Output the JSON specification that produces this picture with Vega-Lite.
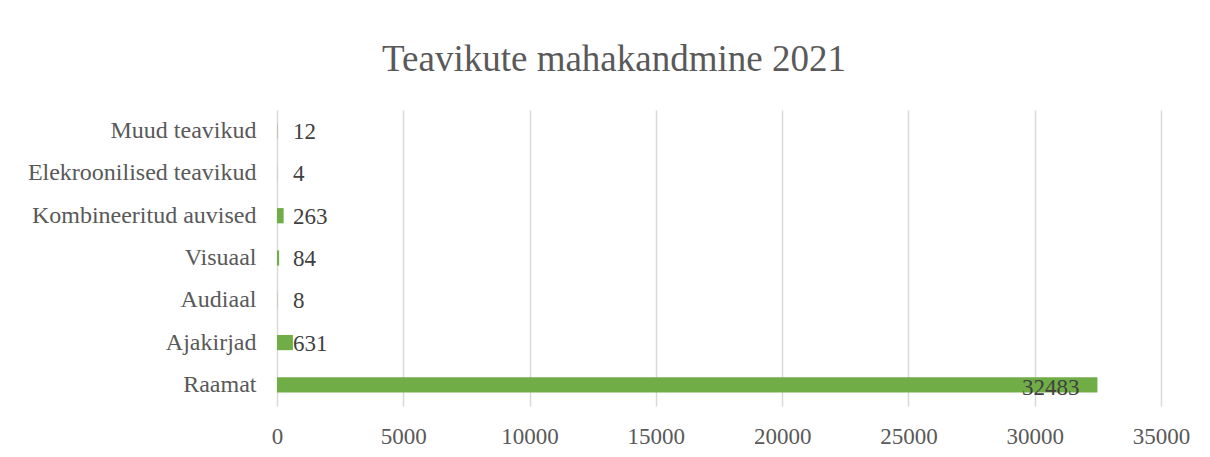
{
  "$schema": "https://vega.github.io/schema/vega-lite/v6.json",
  "width": 884,
  "height": 296,
  "autosize": {"type": "none"},
  "padding": {"left": 277, "top": 110, "right": 49, "bottom": 51},
  "background": "white",
  "title": {
    "text": "Teavikute mahakandmine 2021",
    "font": "Liberation Serif",
    "fontSize": 37,
    "fontWeight": "normal",
    "color": "#595959",
    "anchor": "middle",
    "dx": -105,
    "offset": 31
  },
  "data": {
    "values": [
      {"kategooria": "Muud teavikud", "arv": 12},
      {"kategooria": "Elekroonilised teavikud", "arv": 4},
      {"kategooria": "Kombineeritud auvised", "arv": 263},
      {"kategooria": "Visuaal", "arv": 84},
      {"kategooria": "Audiaal", "arv": 8},
      {"kategooria": "Ajakirjad", "arv": 631},
      {"kategooria": "Raamat", "arv": 32483}
    ]
  },
  "encoding": {
    "y": {
      "field": "kategooria",
      "type": "nominal",
      "sort": null,
      "title": null,
      "scale": {"paddingInner": 0.64, "paddingOuter": 0.32},
      "axis": {
        "domain": false,
        "ticks": false,
        "labelFont": "Liberation Serif",
        "labelFontSize": 24,
        "labelColor": "#595959",
        "labelPadding": 21,
        "labelLimit": 0,
        "grid": false
      }
    }
  },
  "layer": [
    {
      "mark": {"type": "bar", "color": "#70ad47"},
      "encoding": {
        "x": {
          "field": "arv",
          "type": "quantitative",
          "title": null,
          "scale": {"domain": [0, 35000], "nice": false},
          "axis": {
            "values": [0, 5000, 10000, 15000, 20000, 25000, 30000, 35000],
            "format": "d",
            "domain": false,
            "ticks": false,
            "grid": true,
            "gridColor": "#d9d9d9",
            "gridWidth": 1.5,
            "labelFlush": false,
            "labelFont": "Liberation Serif",
            "labelFontSize": 23,
            "labelColor": "#595959",
            "labelPadding": 19
          }
        }
      }
    },
    {
      "transform": [{"filter": "datum.arv < 10000"}],
      "mark": {
        "type": "text",
        "align": "left",
        "baseline": "middle",
        "dx": 16,
        "dy": 1,
        "font": "Liberation Serif",
        "fontSize": 23,
        "color": "#404040"
      },
      "encoding": {
        "x": {"datum": 0, "type": "quantitative"},
        "text": {"field": "arv", "type": "quantitative", "format": "d"}
      }
    },
    {
      "transform": [{"filter": "datum.arv >= 10000"}],
      "mark": {
        "type": "text",
        "align": "right",
        "baseline": "middle",
        "dx": -18,
        "dy": 3,
        "font": "Liberation Serif",
        "fontSize": 23,
        "color": "#404040"
      },
      "encoding": {
        "x": {"field": "arv", "type": "quantitative"},
        "text": {"field": "arv", "type": "quantitative", "format": "d"}
      }
    }
  ],
  "config": {"view": {"stroke": null}}
}
